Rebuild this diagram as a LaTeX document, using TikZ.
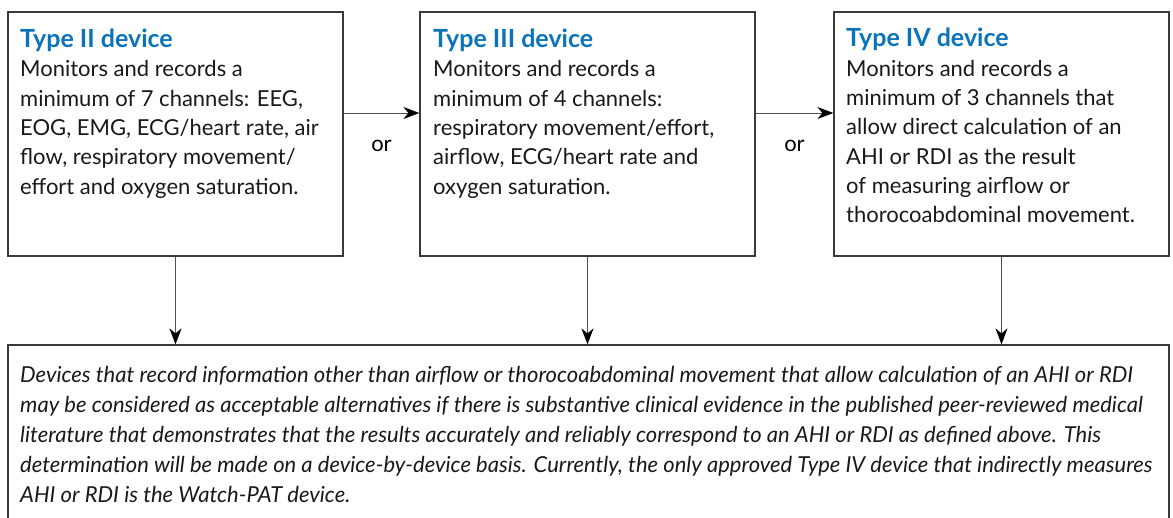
\documentclass[tikz,border=0pt]{standalone}
\usepackage{fontspec}
\setmainfont{Lato}
\usetikzlibrary{arrows.meta}
\definecolor{ttl}{HTML}{0A73BA}
\definecolor{edge}{HTML}{3A3A3A}
\definecolor{conn}{HTML}{505050}
\newcommand{\hdtxt}[1]{{\fontsize{25}{29.3}\selectfont\bfseries\color{ttl}#1}}
\begin{document}
\begin{tikzpicture}[x=1pt,y=-1pt,
  box/.style={draw=edge,line width=1.2pt,inner sep=0pt},
  txt/.style={anchor=base west,inner sep=0pt,align=left,font=\fontsize{22}{29.3}\selectfont,text=black!90},
  arr/.style={draw=conn,line width=1pt,-{Stealth[length=16pt,width=12pt,inset=5pt,color=black]}},
  ortxt/.style={font=\fontsize{22}{29}\selectfont,anchor=base,inner sep=0pt}]
\useasboundingbox (0,0) rectangle (1173,517);
\node[box,minimum width=335pt,minimum height=244pt] (b1) at (175.5,134) {};
\node[box,minimum width=335pt,minimum height=244pt] (b2) at (587.5,134) {};
\node[box,minimum width=335pt,minimum height=244pt] (b3) at (1001.5,134) {};
\node[box,minimum width=1161pt,minimum height=220pt] (b4) at (588.5,455) {};
\node[txt] (t1) at (20,194) {\hdtxt{Type II device}\\
Monitors and records a\\
minimum of 7 channels: EEG,\\
EOG, EMG, ECG/heart rate, air\\
flow, respiratory movement/\\
effort and oxygen saturation.};
\node[txt] (t2) at (433,194) {\hdtxt{Type III device}\\
Monitors and records a\\
minimum of 4 channels:\\
respiratory movement/effort,\\
airflow, ECG/heart rate and\\
oxygen saturation.};
\node[txt] (t3) at (846,222.7) {\hdtxt{Type IV device}\\
Monitors and records a\\
minimum of 3 channels that\\
allow direct calculation of an\\
AHI or RDI as the result\\
of measuring airflow or\\
thorocoabdominal movement.};
\node[txt,font=\fontsize{22}{30}\selectfont\itshape] (t4) at (20,502) {Devices that record information other than airflow or thorocoabdominal movement that allow calculation of an AHI or RDI\\
may be considered as acceptable alternatives if there is substantive clinical evidence in the published peer-reviewed medical\\
literature that demonstrates that the results accurately and reliably correspond to an AHI or RDI as defined above. This\\
determination will be made on a device-by-device basis. Currently, the only approved Type IV device that indirectly measures\\
AHI or RDI is the Watch-PAT device.};
\draw[arr] ([yshift=21pt]b1.east) -- node[ortxt,yshift=-38pt] (or1) {or} ([yshift=21pt]b2.west);
\draw[arr] ([yshift=21pt]b2.east) -- node[ortxt,yshift=-38pt] (or2) {or} ([yshift=21pt]b3.west);
\draw[arr] (b1.south) -- (b1.south |- b4.north);
\draw[arr] (b2.south) -- (b2.south |- b4.north);
\draw[arr] (b3.south) -- (b3.south |- b4.north);
\end{tikzpicture}
\end{document}
